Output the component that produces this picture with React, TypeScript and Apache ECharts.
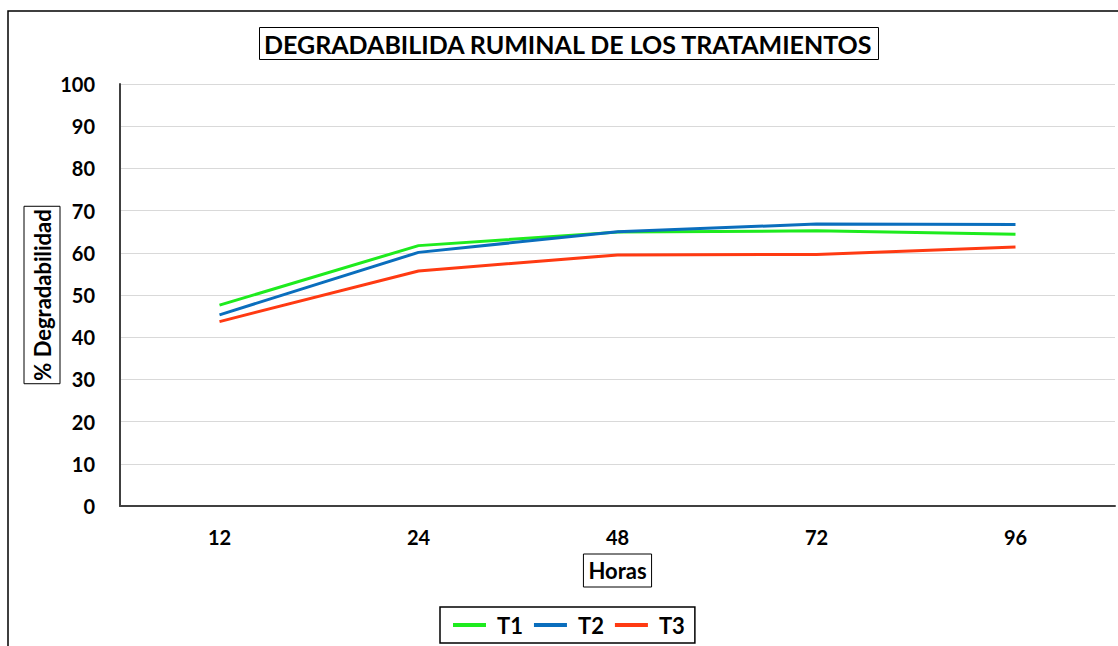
import React, { useEffect, useRef } from "react";
import * as echarts from "echarts";

const categories = ["12", "24", "48", "72", "96"];
const t1 = [47.6, 61.7, 64.9, 65.2, 64.4];
const t2 = [45.3, 60.1, 65.0, 66.8, 66.7];
const t3 = [43.7, 55.7, 59.5, 59.6, 61.4];
const seriesNames = ["T1", "T2", "T3"];
const seriesColors = ["#1EEB1E", "#0A6EBD", "#FF3A12"];

const FONT = "Lato";

export default function App() {
  const ref = useRef<HTMLDivElement>(null);
  useEffect(() => {
    if (!ref.current) return;
    const chart = echarts.init(ref.current, undefined, { renderer: "svg" });
    const data = [t1, t2, t3];
    chart.setOption({
      animation: false,
      backgroundColor: "#fff",
      title: {
        text: "DEGRADABILIDA RUMINAL DE LOS TRATAMIENTOS",
        left: 259,
        top: 27,
        padding: [4, 5, 4, 5],
        borderColor: "#000",
        borderWidth: 1,
        textStyle: { fontFamily: FONT, fontWeight: "bold", fontSize: 25, color: "#000" },
      },
      legend: {
        left: 440,
        top: 607,
        data: seriesNames,
        icon: "rect",
        itemWidth: 33,
        itemHeight: 4,
        itemGap: 11,
        padding: [7, 10, 7, 13],
        borderColor: "#000",
        borderWidth: 1.5,
        textStyle: { fontFamily: FONT, fontWeight: "bold", fontSize: 22, color: "#000", padding: [0, 0, 0, 6] },
      },
      graphic: [
        {
          type: "rect",
          shape: { x: 8, y: 11, width: 1130, height: 660 },
          style: { fill: "none", stroke: "#000", lineWidth: 1.5 },
          silent: true,
        },
      ],
      grid: { left: 120, top: 84, right: 3, bottom: 140 },
      xAxis: {
        type: "category",
        data: categories,
        boundaryGap: true,
        axisLine: { lineStyle: { color: "#404040", width: 2 } },
        axisTick: { show: false },
        axisLabel: { margin: 21, fontFamily: FONT, fontWeight: "bold", fontSize: 20, color: "#000" },
        name: "Horas",
        nameLocation: "middle",
        nameGap: 48,
        nameTextStyle: {
          fontFamily: FONT,
          fontWeight: "bold",
          fontSize: 22,
          color: "#000",
          borderColor: "#000",
          borderWidth: 1,
          padding: [5, 5, 6, 5],
        },
      },
      yAxis: {
        type: "value",
        min: 0,
        max: 100,
        interval: 10,
        axisLine: { show: true, lineStyle: { color: "#404040", width: 2 } },
        axisTick: { show: false },
        splitLine: { lineStyle: { color: "#D9D9D9", width: 1 } },
        axisLabel: { margin: 25, fontFamily: FONT, fontWeight: "bold", fontSize: 20, color: "#000" },
        name: "% Degradabilidad",
        nameLocation: "middle",
        nameGap: 60,
        nameMoveOverlap: false,
        nameRotate: 90,
        nameTextStyle: {
          fontFamily: FONT,
          fontWeight: "bold",
          fontSize: 22,
          color: "#000",
          borderColor: "#000",
          borderWidth: 1,
          padding: [7, 3, 7, 3],
        },
      },
      series: seriesNames.map((n, i) => ({
        name: n,
        type: "line",
        data: data[i],
        color: seriesColors[i],
        showSymbol: false,
        symbol: "none",
        lineStyle: { width: 3, color: seriesColors[i] },
      })),
    });
    return () => chart.dispose();
  }, []);
  return (
    <div
      ref={ref}
      style={{ position: "absolute", left: 0, top: 0, width: 1118, height: 646 }}
    />
  );
}
